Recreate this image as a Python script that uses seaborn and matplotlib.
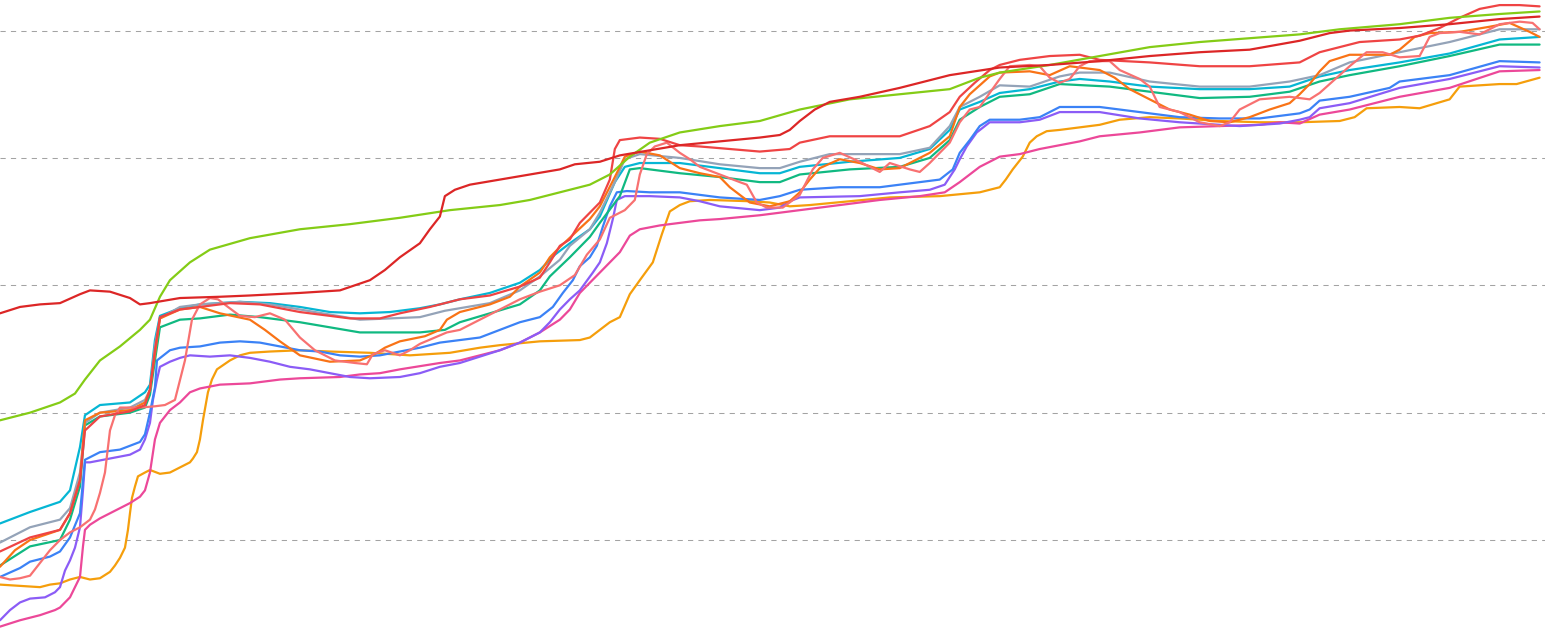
import numpy as np
import pandas as pd
import seaborn as sns
import matplotlib
matplotlib.use("Agg")
import matplotlib.pyplot as plt

# values: day index and value (grid lines sit at 1..5)
crimson_day = [0,20,40,60,80,90,110,130,140,150,180,220,250,300,340,370,385,400,420,430,440,445,455,470,500,530,560,575,600,620,650,680,720,760,780,790,800,815,830,860,900,950,1000,1050,1100,1150,1200,1250,1300,1330,1350,1400,1450,1500,1540]
crimson_val = [2.78,2.83,2.85,2.86,2.93,2.96,2.95,2.90,2.85,2.86,2.90,2.91,2.92,2.94,2.96,3.04,3.12,3.22,3.33,3.44,3.54,3.70,3.75,3.79,3.83,3.87,3.91,3.95,3.97,4.02,4.06,4.10,4.13,4.16,4.18,4.22,4.29,4.38,4.44,4.48,4.55,4.65,4.71,4.73,4.76,4.80,4.83,4.85,4.92,4.98,5.00,5.02,5.05,5.09,5.11]

lime_day = [0,30,60,75,85,100,120,140,150,160,170,190,210,250,300,350,400,450,500,530,560,590,610,630,650,680,720,760,800,850,900,950,980,1000,1050,1100,1150,1200,1250,1300,1340,1400,1450,1500,1540]
lime_val = [1.94,2.00,2.08,2.15,2.26,2.41,2.52,2.65,2.73,2.91,3.04,3.18,3.28,3.37,3.44,3.48,3.53,3.59,3.63,3.67,3.73,3.79,3.87,4.01,4.12,4.20,4.25,4.29,4.38,4.46,4.50,4.54,4.63,4.67,4.73,4.80,4.87,4.91,4.94,4.97,5.01,5.05,5.10,5.13,5.15]

red_day = [0,30,60,70,80,85,100,130,145,150,155,160,180,200,230,260,300,350,380,400,430,460,490,520,540,550,560,570,580,600,610,615,620,640,660,680,700,760,790,800,830,900,930,950,960,975,990,1000,1020,1050,1080,1100,1150,1200,1250,1300,1320,1340,1360,1400,1420,1440,1460,1480,1500,1520,1540]
red_val = [0.91,1.02,1.08,1.21,1.47,1.86,1.97,2.01,2.06,2.18,2.49,2.75,2.81,2.83,2.86,2.85,2.79,2.74,2.74,2.78,2.83,2.89,2.92,2.99,3.06,3.18,3.31,3.36,3.49,3.65,3.83,4.07,4.14,4.16,4.15,4.10,4.09,4.05,4.07,4.12,4.17,4.17,4.25,4.36,4.48,4.59,4.69,4.73,4.77,4.80,4.81,4.77,4.75,4.72,4.72,4.75,4.83,4.87,4.91,4.93,4.96,5.02,5.10,5.17,5.20,5.20,5.19]

cyan_day = [0,30,60,70,80,85,100,130,145,150,155,160,180,200,240,270,300,330,360,390,420,440,460,490,520,540,555,570,590,600,615,625,640,680,720,760,780,800,850,900,930,950,960,980,1000,1030,1060,1080,1110,1150,1200,1250,1290,1320,1350,1400,1450,1500,1540]
cyan_val = [1.13,1.22,1.30,1.39,1.73,1.98,2.06,2.08,2.16,2.22,2.57,2.76,2.82,2.85,2.87,2.86,2.83,2.79,2.78,2.79,2.82,2.85,2.89,2.94,3.02,3.12,3.24,3.33,3.44,3.54,3.81,3.93,3.96,3.96,3.92,3.88,3.88,3.93,3.97,4.00,4.07,4.22,4.38,4.44,4.51,4.54,4.60,4.62,4.60,4.56,4.54,4.54,4.56,4.64,4.69,4.75,4.82,4.93,4.95]

slate_day = [0,30,60,70,80,85,100,130,145,150,155,160,180,200,240,270,300,330,360,390,420,445,460,490,520,540,560,570,590,600,615,625,640,680,720,760,780,800,830,900,930,950,960,980,1000,1030,1060,1080,1110,1150,1200,1250,1290,1320,1350,1400,1450,1500,1540]
slate_val = [0.98,1.10,1.16,1.25,1.53,1.92,2.00,2.04,2.10,2.18,2.53,2.74,2.83,2.85,2.87,2.85,2.81,2.77,2.73,2.74,2.75,2.80,2.82,2.86,2.96,3.07,3.20,3.31,3.44,3.57,3.81,3.99,4.03,4.00,3.95,3.92,3.92,3.97,4.03,4.03,4.08,4.25,4.40,4.48,4.57,4.56,4.64,4.67,4.67,4.60,4.56,4.56,4.60,4.65,4.75,4.83,4.91,5.01,5.01]

green_day = [0,30,60,70,80,85,100,130,145,150,155,160,180,200,230,260,300,330,360,390,420,445,460,490,520,540,550,570,590,600,620,630,640,680,720,760,780,800,850,900,930,950,960,980,1000,1030,1060,1110,1150,1200,1250,1290,1320,1350,1400,1450,1500,1540]
green_val = [0.80,0.95,1.00,1.16,1.42,1.90,1.97,2.00,2.04,2.14,2.41,2.67,2.73,2.74,2.77,2.75,2.71,2.67,2.63,2.63,2.63,2.65,2.71,2.78,2.85,2.96,3.07,3.22,3.38,3.49,3.70,3.91,3.92,3.88,3.85,3.81,3.81,3.87,3.91,3.93,4.00,4.14,4.30,4.40,4.48,4.50,4.58,4.56,4.52,4.47,4.48,4.52,4.60,4.65,4.72,4.80,4.89,4.89]

orange_day = [0,15,30,60,70,80,85,100,130,145,150,160,180,200,220,250,265,280,300,330,360,375,385,400,425,440,447,460,490,510,520,540,550,560,575,590,600,615,625,640,660,680,700,720,730,740,750,770,790,800,810,820,840,860,880,900,930,950,960,970,990,1000,1030,1050,1070,1100,1115,1130,1150,1170,1190,1210,1230,1250,1270,1290,1300,1310,1320,1330,1350,1390,1400,1415,1430,1460,1490,1510,1530,1540]
orange_val = [0.79,0.92,1.00,1.08,1.21,1.47,1.94,2.00,2.02,2.08,2.18,2.74,2.81,2.83,2.78,2.73,2.65,2.56,2.45,2.40,2.41,2.46,2.51,2.56,2.60,2.65,2.73,2.79,2.85,2.91,2.99,3.10,3.22,3.30,3.41,3.52,3.62,3.85,4.01,4.05,4.02,3.92,3.88,3.85,3.77,3.71,3.65,3.62,3.66,3.73,3.83,3.92,3.99,3.96,3.91,3.92,4.04,4.17,4.40,4.50,4.64,4.67,4.68,4.65,4.72,4.69,4.63,4.54,4.46,4.38,4.34,4.29,4.28,4.32,4.38,4.43,4.50,4.58,4.68,4.76,4.81,4.81,4.85,4.95,4.98,4.99,5.03,5.06,4.99,4.95]

salmon_day = [0,10,20,30,40,50,60,70,80,90,95,100,105,110,115,120,140,155,165,175,185,192,200,210,218,228,240,255,270,285,300,315,335,355,367,373,385,400,410,420,447,460,480,500,520,540,560,575,587,600,610,625,635,640,647,655,667,680,690,700,720,740,747,757,767,783,800,813,823,840,860,880,890,910,920,930,950,960,970,980,990,1000,1010,1030,1040,1050,1060,1070,1080,1090,1110,1120,1140,1150,1160,1180,1200,1220,1230,1240,1260,1290,1310,1320,1340,1350,1367,1383,1400,1420,1430,1440,1460,1480,1500,1520,1533,1540]
salmon_val = [0.71,0.69,0.70,0.72,0.82,0.92,1.00,1.06,1.10,1.16,1.24,1.37,1.53,1.86,1.98,2.04,2.04,2.05,2.06,2.10,2.41,2.73,2.85,2.90,2.89,2.83,2.76,2.75,2.78,2.73,2.59,2.49,2.41,2.39,2.38,2.46,2.49,2.45,2.49,2.54,2.63,2.65,2.73,2.81,2.89,2.95,3.00,3.08,3.24,3.36,3.53,3.59,3.67,3.87,4.03,4.09,4.12,4.04,3.99,3.93,3.87,3.81,3.79,3.65,3.61,3.61,3.71,3.91,4.00,4.04,3.97,3.89,3.96,3.91,3.89,3.96,4.12,4.28,4.38,4.40,4.51,4.62,4.72,4.73,4.72,4.63,4.59,4.62,4.72,4.76,4.76,4.69,4.62,4.56,4.40,4.36,4.28,4.25,4.28,4.38,4.46,4.48,4.46,4.51,4.65,4.72,4.83,4.83,4.79,4.80,4.95,4.98,4.99,4.97,5.05,5.07,5.06,5.01]

blue_day = [0,20,30,50,60,70,80,85,90,100,120,140,145,150,155,157,170,180,200,220,240,260,280,300,320,340,360,380,400,420,440,460,480,500,520,540,553,563,573,580,590,597,603,610,617,627,650,680,700,720,760,780,800,840,880,920,940,953,960,970,980,990,1020,1040,1060,1100,1140,1180,1220,1260,1300,1310,1320,1350,1390,1400,1450,1500,1540]
blue_val = [0.71,0.78,0.83,0.87,0.91,1.02,1.21,1.63,1.65,1.69,1.71,1.77,1.83,2.00,2.20,2.41,2.49,2.51,2.52,2.55,2.56,2.55,2.52,2.49,2.48,2.45,2.44,2.45,2.48,2.51,2.55,2.57,2.59,2.65,2.71,2.75,2.83,2.94,3.04,3.15,3.22,3.31,3.46,3.62,3.73,3.74,3.73,3.73,3.71,3.69,3.67,3.70,3.75,3.77,3.77,3.81,3.83,3.91,4.04,4.14,4.25,4.30,4.30,4.32,4.40,4.40,4.36,4.32,4.31,4.31,4.35,4.38,4.45,4.48,4.55,4.60,4.65,4.76,4.75]

violet_day = [0,10,20,30,45,55,60,65,70,75,80,83,85,90,110,130,140,145,150,153,157,160,170,180,190,210,230,250,270,290,310,330,350,370,400,420,440,460,480,500,520,540,550,560,570,580,593,600,607,613,617,625,650,680,700,720,760,780,790,800,860,900,930,945,955,960,967,977,990,1020,1040,1060,1100,1140,1180,1240,1280,1300,1310,1320,1350,1400,1450,1500,1540]
violet_val = [0.37,0.45,0.51,0.54,0.55,0.59,0.63,0.76,0.84,0.94,1.10,1.39,1.61,1.61,1.64,1.67,1.71,1.79,1.92,2.10,2.26,2.36,2.40,2.43,2.45,2.44,2.45,2.43,2.40,2.36,2.34,2.31,2.28,2.27,2.28,2.31,2.36,2.39,2.44,2.49,2.55,2.63,2.71,2.81,2.89,2.96,3.10,3.18,3.33,3.52,3.67,3.70,3.70,3.69,3.66,3.62,3.59,3.61,3.66,3.69,3.70,3.73,3.75,3.79,3.91,3.99,4.09,4.20,4.28,4.28,4.30,4.36,4.36,4.31,4.28,4.25,4.27,4.30,4.32,4.39,4.43,4.55,4.62,4.72,4.71]

pink_day = [0,20,40,55,60,70,75,80,83,85,90,100,110,120,130,140,145,150,155,160,165,170,180,190,200,220,250,280,300,340,360,380,400,440,460,480,500,520,540,560,570,580,590,600,610,620,630,640,660,680,700,720,760,800,840,880,920,945,960,980,1000,1020,1040,1060,1080,1100,1140,1180,1220,1260,1280,1300,1320,1350,1400,1450,1500,1540]
pink_val = [0.32,0.37,0.41,0.45,0.47,0.55,0.63,0.71,0.95,1.08,1.12,1.17,1.21,1.25,1.29,1.34,1.39,1.53,1.79,1.92,1.97,2.02,2.08,2.16,2.19,2.22,2.23,2.26,2.27,2.28,2.30,2.31,2.34,2.39,2.41,2.45,2.49,2.55,2.63,2.73,2.81,2.94,3.02,3.10,3.18,3.26,3.39,3.44,3.47,3.49,3.51,3.52,3.55,3.59,3.63,3.67,3.70,3.73,3.81,3.93,4.01,4.03,4.07,4.10,4.13,4.17,4.20,4.24,4.25,4.26,4.28,4.27,4.34,4.38,4.48,4.55,4.68,4.69]

amber_day = [0,20,40,50,60,70,80,90,100,110,115,120,125,128,130,132,135,138,145,150,160,170,180,190,193,197,200,203,208,212,217,230,240,250,270,300,330,370,410,450,480,500,540,580,590,600,610,620,630,640,653,662,670,680,690,710,750,770,790,810,850,890,940,980,1000,1006,1013,1023,1030,1037,1047,1060,1080,1100,1120,1150,1180,1220,1260,1300,1340,1355,1367,1400,1420,1450,1460,1500,1517,1540]
amber_val = [0.65,0.64,0.63,0.65,0.66,0.69,0.71,0.69,0.70,0.75,0.80,0.86,0.94,1.08,1.21,1.33,1.42,1.50,1.53,1.55,1.52,1.53,1.57,1.61,1.64,1.69,1.79,1.94,2.16,2.26,2.34,2.41,2.45,2.47,2.48,2.49,2.48,2.47,2.45,2.47,2.51,2.53,2.56,2.57,2.59,2.65,2.71,2.75,2.93,3.04,3.18,3.40,3.58,3.63,3.66,3.67,3.66,3.65,3.62,3.63,3.66,3.69,3.70,3.73,3.77,3.83,3.91,4.01,4.12,4.17,4.21,4.22,4.24,4.26,4.30,4.32,4.31,4.29,4.28,4.28,4.29,4.32,4.39,4.40,4.39,4.46,4.56,4.58,4.58,4.63]

# drawing order, first is at the bottom
series = [
    ("amber", amber_day, amber_val, "#f59e0b"),
    ("pink", pink_day, pink_val, "#ec4899"),
    ("violet", violet_day, violet_val, "#8b5cf6"),
    ("blue", blue_day, blue_val, "#3b82f6"),
    ("green", green_day, green_val, "#10b981"),
    ("cyan", cyan_day, cyan_val, "#06b6d4"),
    ("slate", slate_day, slate_val, "#94a3b8"),
    ("orange", orange_day, orange_val, "#f97316"),
    ("salmon", salmon_day, salmon_val, "#f87171"),
    ("red", red_day, red_val, "#ef4444"),
    ("lime", lime_day, lime_val, "#84cc16"),
    ("crimson", crimson_day, crimson_val, "#dc2626"),
]

frames = []
for name, d, v, c in series:
    frames.append(pd.DataFrame({"day": d, "value": v, "series": name}))
df = pd.concat(frames, ignore_index=True)
palette = {name: c for name, d, v, c in series}
order = [name for name, d, v, c in series]

sns.set_style("white")
fig = plt.figure(figsize=(15.5, 6.33), dpi=100)
ax = fig.add_axes([0, 0, 0.9965, 1])

sns.lineplot(data=df, x="day", y="value", hue="series", hue_order=order,
             palette=palette, estimator=None, sort=False, linewidth=1.6,
             legend=False, ax=ax)

ax.set_xlim(0, 1545)
ax.set_ylim(0.27, 5.24)
ax.set_yticks([1, 2, 3, 4, 5])
ax.set_xticks([])
ax.grid(False, axis="x")
ax.grid(True, axis="y", color="#a3a3a3", linestyle=(0, (5, 5)), linewidth=0.75)
ax.set_axisbelow(True)
ax.tick_params(left=False, labelleft=False, bottom=False, labelbottom=False)
ax.set_xlabel("")
ax.set_ylabel("")
sns.despine(ax=ax, left=True, bottom=True)

fig.savefig("out.png", dpi=100)
